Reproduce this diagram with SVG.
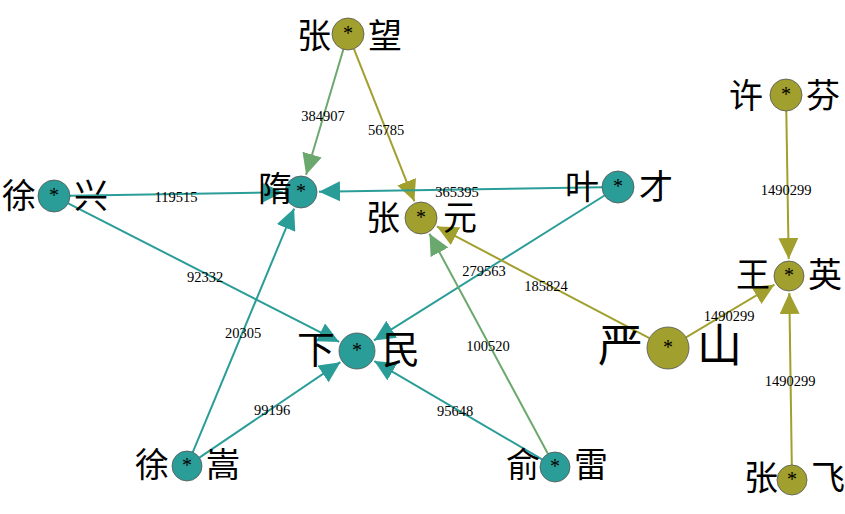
<svg xmlns="http://www.w3.org/2000/svg" width="845" height="514" viewBox="0 0 845 514">
<style>
.e{stroke-width:2;fill:none}
.t{stroke:#2A9D98}.o{stroke:#A19F2D}.g{stroke:#6BA86E}
.el{font-family:"Liberation Serif",serif;font-size:14.5px;fill:#000;text-anchor:middle}
.n circle{stroke:#555;stroke-width:0.8}
.tn{fill:#2A9D98}.on{fill:#A19F2D}
.st{font-family:"Liberation Serif",serif;font-size:20px;text-anchor:middle;fill:#000}
.lb{font-family:"Noto Sans CJK SC",sans-serif;font-size:34px;fill:#000;dominant-baseline:central}
.l{text-anchor:end}.r{text-anchor:start}
</style>
<defs>
<marker id="at" markerUnits="userSpaceOnUse" markerWidth="22" markerHeight="20" refX="21" refY="10" orient="auto"><path d="M0,0L21,10L0,20z" fill="#2A9D98"/></marker>
<marker id="ao" markerUnits="userSpaceOnUse" markerWidth="22" markerHeight="20" refX="21" refY="10" orient="auto"><path d="M0,0L21,10L0,20z" fill="#A19F2D"/></marker>
<marker id="ag" markerUnits="userSpaceOnUse" markerWidth="22" markerHeight="20" refX="21" refY="10" orient="auto"><path d="M0,0L21,10L0,20z" fill="#6BA86E"/></marker>
</defs>
<rect width="845" height="514" fill="#fff"/>
<g id="edges">
<line class="e g" x1="343.4" y1="49.3" x2="306.1" y2="174.7" marker-end="url(#ag)"/>
<line class="e o" x1="353.9" y1="48.9" x2="414.4" y2="201.3" marker-end="url(#ao)"/>
<line class="e t" x1="70" y1="195.7" x2="283" y2="192.3" marker-end="url(#at)"/>
<line class="e t" x1="602" y1="187.3" x2="319" y2="191.7" marker-end="url(#at)"/>
<line class="e t" x1="68.2" y1="203.3" x2="339.2" y2="341.9" marker-end="url(#at)"/>
<line class="e t" x1="192.8" y1="452.2" x2="294.1" y2="208.6" marker-end="url(#at)"/>
<line class="e t" x1="199.4" y1="457.6" x2="340.4" y2="362.2" marker-end="url(#at)"/>
<line class="e t" x1="604.5" y1="195.5" x2="373.9" y2="340.4" marker-end="url(#at)"/>
<line class="e t" x1="542.1" y1="459.4" x2="374.3" y2="361.1" marker-end="url(#at)"/>
<line class="e g" x1="547.9" y1="453.8" x2="429.5" y2="233.8" marker-end="url(#ag)"/>
<line class="e o" x1="649.4" y1="338.2" x2="436.9" y2="226.4" marker-end="url(#ao)"/>
<line class="e o" x1="686" y1="337.3" x2="774.4" y2="284.7" marker-end="url(#ao)"/>
<line class="e o" x1="786.3" y1="111" x2="788.7" y2="259" marker-end="url(#ao)"/>
<line class="e o" x1="791.8" y1="465" x2="789.3" y2="293" marker-end="url(#ao)"/>
<text class="el" x="323" y="121">384907</text>
<text class="el" x="386" y="135">56785</text>
<text class="el" x="176" y="202">119515</text>
<text class="el" x="457" y="197">365395</text>
<text class="el" x="205" y="282">92332</text>
<text class="el" x="243" y="338">20305</text>
<text class="el" x="272" y="415">99196</text>
<text class="el" x="484" y="276">279563</text>
<text class="el" x="455" y="416">95648</text>
<text class="el" x="488" y="351">100520</text>
<text class="el" x="546" y="291">185824</text>
<text class="el" x="729" y="321">1490299</text>
<text class="el" x="786" y="195">1490299</text>
<text class="el" x="790" y="386">1490299</text>
</g>
<g id="n-zhangwang" class="n"><circle class="on" cx="348" cy="34" r="16"/><text class="st" x="348" y="40">*</text><text class="lb l" x="331" y="33">张</text><text class="lb r" x="368" y="33">望</text></g>
<g id="n-xuxing" class="n"><circle class="tn" cx="54" cy="196" r="16"/><text class="st" x="54" y="202">*</text><text class="lb l" x="36" y="193">徐</text><text class="lb r" x="74" y="193">兴</text></g>
<g id="n-sui" class="n"><circle class="tn" cx="301" cy="192" r="16"/><text class="st" x="301" y="198">*</text><text class="lb l" x="292" y="186">隋</text></g>
<g id="n-zhangyuan" class="n"><circle class="on" cx="421" cy="218" r="16"/><text class="st" x="421" y="224">*</text><text class="lb l" x="400" y="215">张</text><text class="lb r" x="443" y="215">元</text></g>
<g id="n-yecai" class="n"><circle class="tn" cx="618" cy="187" r="16"/><text class="st" x="618" y="193">*</text><text class="lb l" x="599" y="184">叶</text><text class="lb r" x="639" y="184">才</text></g>
<g id="n-xiamin" class="n"><circle class="tn" cx="357" cy="351" r="18"/><text class="st" x="357" y="357">*</text><text class="lb l" x="335" y="346" style="font-size:38px">下</text><text class="lb r" x="382" y="346" style="font-size:38px">民</text></g>
<g id="n-yanshan" class="n"><circle class="on" cx="668" cy="348" r="21"/><text class="st" x="668" y="354">*</text><text class="lb l" x="643" y="342" style="font-size:45px">严</text><text class="lb r" x="697" y="342" style="font-size:45px">山</text></g>
<g id="n-xufen" class="n"><circle class="on" cx="786" cy="95" r="16"/><text class="st" x="786" y="101">*</text><text class="lb l" x="763" y="93">许</text><text class="lb r" x="806" y="93">芬</text></g>
<g id="n-wangying" class="n"><circle class="on" cx="789" cy="276" r="15"/><text class="st" x="789" y="282">*</text><text class="lb l" x="770" y="272">王</text><text class="lb r" x="808" y="272">英</text></g>
<g id="n-zhangfei" class="n"><circle class="on" cx="792" cy="480" r="15"/><text class="st" x="792" y="486">*</text><text class="lb l" x="778" y="475">张</text><text class="lb r" x="811" y="475">飞</text></g>
<g id="n-xusong" class="n"><circle class="tn" cx="187" cy="466" r="15"/><text class="st" x="187" y="472">*</text><text class="lb l" x="169" y="462">徐</text><text class="lb r" x="206" y="462">嵩</text></g>
<g id="n-yulei" class="n"><circle class="tn" cx="555" cy="467" r="15"/><text class="st" x="555" y="473">*</text><text class="lb l" x="540" y="462">俞</text><text class="lb r" x="574" y="462">雷</text></g>
</svg>
